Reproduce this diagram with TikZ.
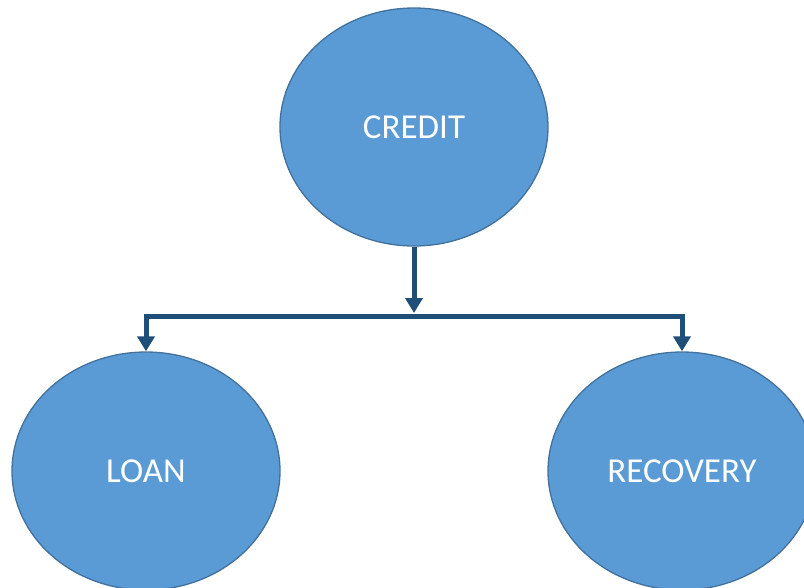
\documentclass[tikz,border=0pt]{standalone}
\usepackage{fontspec}
\setmainfont{Carlito}
\usetikzlibrary{shapes.geometric,arrows.meta}
\definecolor{fillblue}{HTML}{5B9BD5}
\definecolor{edgeblue}{HTML}{41719C}
\definecolor{linkblue}{HTML}{1F4E79}
\tikzset{
  bubble/.style={ellipse, draw=edgeblue, line width=1.3pt, fill=fillblue, minimum width=268pt, minimum height=238pt, inner sep=0pt, text=white, font=\fontsize{35}{40}\selectfont},
  link/.style={draw=linkblue, line width=5pt, miter limit=10, -{Triangle[width=17pt,length=15pt]}}
}
\begin{document}
\begin{tikzpicture}[x=1pt,y=-1pt]
\useasboundingbox (0,0) rectangle (804,587);
\clip (0,0) rectangle (804,587);
\node[bubble] (credit) at (414,127) {CREDIT};
\node[bubble] (loan) at (146,471) {LOAN};
\node[bubble] (recovery) at (682,471) {RECOVERY};
\coordinate (j) at (414,316);
\draw[link, shorten >=3pt] (credit.south) -- (j);
\draw[link] ([xshift=2.5pt]j) -| (loan.north);
\draw[link] ([xshift=-2.5pt]j) -| (recovery.north);
\end{tikzpicture}
\end{document}
